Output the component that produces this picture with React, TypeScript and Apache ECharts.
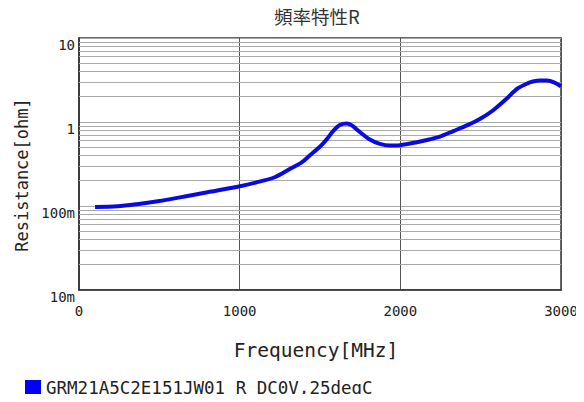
import React, { useEffect, useRef } from "react";
import * as echarts from "echarts";

const TITLE = "頻率特性R";
const SERIES_NAME = "GRM21A5C2E151JW01 R DC0V,25degC";
const X_NAME = "Frequency[MHz]";
const Y_NAME = "Resistance[ohm]";

const FREQ_MHZ = [100, 240, 360, 490, 650, 800, 995, 1100, 1218, 1312, 1386, 1436, 1480, 1517, 1550, 1579, 1623, 1667, 1698, 1748, 1810, 1872, 1935, 1997, 2103, 2180, 2246, 2330, 2414, 2500, 2576, 2661, 2726, 2786, 2825, 2870, 2912, 2960, 3000];
const RESISTANCE = [0.097, 0.099, 0.105, 0.114, 0.129, 0.146, 0.171, 0.19, 0.22, 0.275, 0.33, 0.4, 0.47, 0.55, 0.65, 0.77, 0.92, 0.96, 0.91, 0.76, 0.62, 0.55, 0.525, 0.53, 0.575, 0.62, 0.67, 0.78, 0.91, 1.1, 1.37, 1.89, 2.48, 2.85, 3.03, 3.12, 3.12, 2.95, 2.65];

const Y_TICK_VALUES = [0.01, 0.1, 1, 10];
const Y_TICK_LABELS = ["10m", "100m", "1", "10"];
const DECADES = [0.01, 0.1, 1];
const MINOR_MULTIPLIERS = [2, 3, 4, 5, 6, 7, 8, 9];

export default function App() {
  const ref = useRef<HTMLDivElement>(null);
  useEffect(() => {
    if (!ref.current) return;
    const chart = echarts.init(ref.current, null, { renderer: "svg" });
    const points = FREQ_MHZ.map((f, i) => [f, RESISTANCE[i]]);
    const minorValues: number[] = [];
    DECADES.forEach((d) => MINOR_MULTIPLIERS.forEach((m) => minorValues.push(+(d * m).toPrecision(3))));
    const mono = "DejaVu Sans Mono";
    chart.setOption({
      animation: false,
      backgroundColor: "#ffffff",
      title: {
        text: TITLE,
        left: 269,
        top: 2,
        textStyle: { fontFamily: "Noto Sans CJK JP", fontSize: 18.5, fontWeight: "normal", color: "#333" },
      },
      legend: {
        data: [SERIES_NAME],
        left: 20,
        top: 374,
        icon: "rect",
        itemWidth: 16,
        itemHeight: 16,
        textStyle: { fontFamily: mono, fontSize: 17.5, color: "#222" },
      },
      grid: {
        left: 79,
        right: 23,
        top: 38,
        bottom: 112,
        show: true,
        borderColor: "#333",
        borderWidth: 1.5,
        backgroundColor: "transparent",
      },
      xAxis: {
        type: "value",
        min: 0,
        max: 3000,
        interval: 1000,
        name: X_NAME,
        nameLocation: "middle",
        nameGap: 50,
        nameTextStyle: { fontFamily: mono, fontSize: 19.5, color: "#222", padding: [0, 8, 0, 0] },
        axisLine: { show: true, lineStyle: { color: "#333", width: 1.5 } },
        axisTick: { show: false },
        axisLabel: {
          margin: 14,
          fontFamily: mono,
          fontSize: 14,
          color: "#222",
          formatter: (v: number) => String(v),
        },
        splitLine: { show: true, lineStyle: { color: "#555", width: 1 } },
      },
      yAxis: {
        type: "log",
        logBase: 10,
        min: 0.01,
        max: 10,
        name: Y_NAME,
        nameLocation: "middle",
        nameGap: 48,
        nameRotate: 90,
        nameTextStyle: { fontFamily: mono, fontSize: 17, color: "#222", padding: [0, 22, 0, 0] },
        axisLine: { show: true, lineStyle: { color: "#333", width: 1.5 } },
        axisTick: { show: false },
        axisLabel: {
          margin: 4,
          fontFamily: mono,
          fontSize: 14,
          color: "#222",
          verticalAlign: "top",
          formatter: (v: number) => {
            const idx = Y_TICK_VALUES.findIndex((t) => Math.abs(Math.log10(t) - Math.log10(v)) < 1e-6);
            return idx >= 0 ? Y_TICK_LABELS[idx] : "";
          },
        },
        splitLine: { show: true, lineStyle: { color: "#aaa", width: 1 } },
      },
      series: [
        {
          name: "grid",
          type: "line",
          data: points,
          showSymbol: false,
          silent: true,
          z: 1,
          lineStyle: { opacity: 0, width: 0 },
          markLine: {
            silent: true,
            symbol: ["none", "none"],
            label: { show: false },
            lineStyle: { color: "#aaa", width: 1, type: "solid" },
            data: minorValues.map((v) => ({ yAxis: v })),
          },
        },
        {
          name: SERIES_NAME,
          type: "line",
          data: points,
          smooth: 0.3,
          showSymbol: false,
          z: 5,
          lineStyle: { color: "#0a0ae0", width: 4 },
          itemStyle: { color: "#0000ff" },
        },
      ],
    });
    return () => chart.dispose();
  }, []);
  return <div ref={ref} style={{ width: 584, height: 402, margin: -8 }} />;
}
